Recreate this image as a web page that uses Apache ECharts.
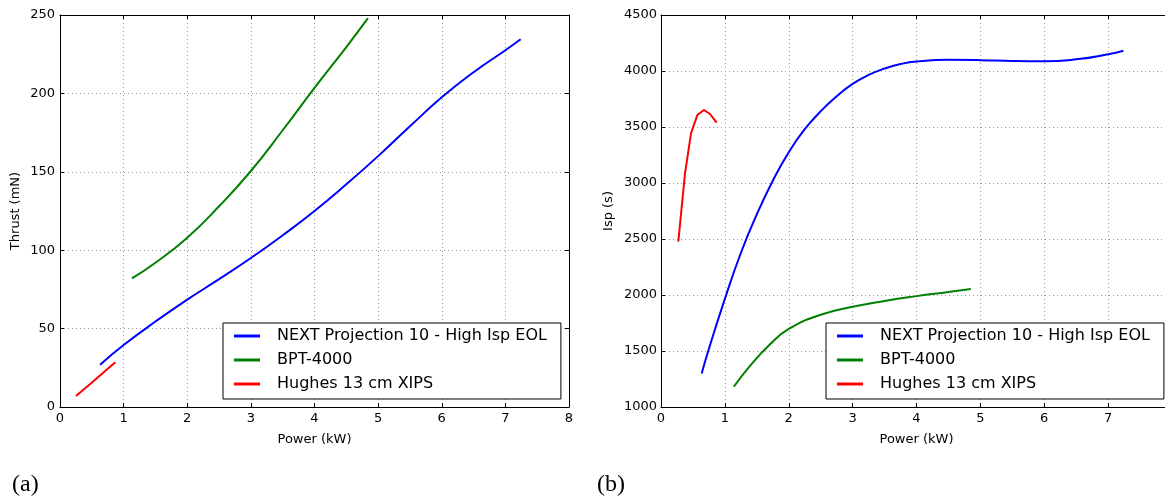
<!DOCTYPE html>
<html>
<head>
<meta charset="utf-8">
<title>Thruster performance vs. power</title>
<script src="https://cdn.jsdelivr.net/npm/echarts@6/dist/echarts.min.js"></script>
<style>
  html, body { margin: 0; padding: 0; background: #fff; }
  #chart { width: 1165px; height: 502px; }
</style>
</head>
<body>
<div id="chart"></div>
<script>
// Series names
const seriesNames = ['NEXT Projection 10 - High Isp EOL', 'BPT-4000', 'Hughes 13 cm XIPS'];
const seriesColors = ['#0000ff', '#008000', '#ff0000'];

// (a) Thrust (mN) vs. power (kW)
const nextThrustPower = [0.63, 1.0, 1.5, 2.0, 2.5, 3.0, 3.5, 4.0, 4.5, 5.0, 5.5, 6.0, 6.5, 7.0, 7.24];
const nextThrust      = [27, 39.5, 54.5, 68.5, 81.5, 95, 109.5, 125, 142, 160, 179, 197.5, 213.5, 227.5, 234.5];
const bptThrustPower  = [1.13, 1.5, 2.0, 2.5, 3.0, 3.5, 4.0, 4.5, 4.84];
const bptThrust       = [82, 92, 108, 128, 150.5, 176.5, 203.5, 229.5, 248];
const xipsThrustPower = [0.25, 0.47, 0.67, 0.87];
const xipsThrust      = [7, 14.5, 21.5, 28.5];

// (b) Isp (s) vs. power (kW)
const nextIspPower = [0.637, 0.75, 1.0, 1.25, 1.5, 1.75, 2.0, 2.25, 2.5, 2.75, 3.0, 3.25, 3.5, 3.75, 4.0, 4.5, 5.0, 5.5, 6.0, 6.5, 7.0, 7.24];
const nextIsp      = [1300, 1520, 1965, 2375, 2720, 3020, 3275, 3480, 3640, 3775, 3885, 3965, 4022, 4062, 4085, 4100, 4097, 4089, 4086, 4104, 4149, 4181];
const bptIspPower  = [1.14, 1.4, 1.7, 2.0, 2.5, 3.0, 3.5, 4.0, 4.5, 4.85];
const bptIsp       = [1181, 1371, 1555, 1697, 1824, 1895, 1947, 1990, 2027, 2054];
const xipsIspPower = [0.271, 0.376, 0.47, 0.569, 0.673, 0.767, 0.871];
const xipsIsp      = [2476, 3086, 3443, 3607, 3652, 3616, 3539];

// Axis ranges and tick steps
const powerTicks  = { min: 0, max: 8, interval: 1 };
const thrustTicks = { min: 0, max: 250, interval: 50 };
const ispTicks    = { min: 1000, max: 4500, interval: 500 };

const zip = (xs, ys) => xs.map((x, i) => [x, ys[i]]);

const tickFont = { fontFamily: 'DejaVu Sans', fontSize: 13, color: '#000', formatter: v => String(v) };
const spine = { show: true, onZero: false, lineStyle: { color: '#000', width: 1 } };
const inTick = { show: true, inside: true, length: 4, lineStyle: { color: '#000' } };
const grid = { show: true, lineStyle: { color: '#9a9a9a', width: 1, type: [1, 3] } };

function mainX(gridIndex) {
  return {
    type: 'value', gridIndex, position: 'bottom', ...powerTicks,
    name: 'Power (kW)', nameLocation: 'middle', nameGap: 26,
    nameTextStyle: { fontFamily: 'DejaVu Sans', fontSize: 13, color: '#000' },
    axisLine: spine, axisTick: inTick,
    axisLabel: { ...tickFont, margin: 5 },
    splitLine: grid
  };
}
function topX(gridIndex) {
  return {
    type: 'value', gridIndex, position: 'top', ...powerTicks,
    axisLine: spine, axisTick: inTick, axisLabel: { show: false }, splitLine: { show: false }
  };
}
function mainY(gridIndex, ticks, name, gap, margin) {
  return {
    type: 'value', gridIndex, position: 'left', ...ticks,
    name, nameLocation: 'middle', nameGap: gap,
    nameTextStyle: { fontFamily: 'DejaVu Sans', fontSize: 13, color: '#000' },
    axisLine: spine, axisTick: inTick,
    axisLabel: { ...tickFont, margin },
    splitLine: grid
  };
}
function rightY(gridIndex, ticks) {
  return {
    type: 'value', gridIndex, position: 'right', ...ticks,
    axisLine: spine, axisTick: inTick, axisLabel: { show: false }, splitLine: { show: false }
  };
}

function line(idx, data, xAxisIndex, yAxisIndex, smooth) {
  return {
    type: 'line', name: seriesNames[idx], data, xAxisIndex, yAxisIndex,
    symbol: 'none', smooth, smoothConstraint: false,
    color: seriesColors[idx],
    lineStyle: { color: seriesColors[idx], width: 2 },
    emphasis: { disabled: true }
  };
}

function legendBox(left) {
  return {
    orient: 'vertical', left, top: 323,
    data: seriesNames,
    icon: 'rect', itemWidth: 26, itemHeight: 3, itemGap: 8,
    padding: [5, 14, 7, 11],
    backgroundColor: '#fff', borderColor: '#000', borderWidth: 1, borderRadius: 0,
    selectedMode: false,
    textStyle: { fontFamily: 'DejaVu Sans', fontSize: 16, color: '#000', lineHeight: 16, padding: [0, 0, 0, 12] }
  };
}

const option = {
  animation: false,
  backgroundColor: '#fff',
  grid: [
    { left: 60, top: 15, width: 509, height: 392, outerBoundsMode: 'none' },
    // panel (b) runs past the right edge of the figure, so its "8" tick and right spine fall outside
    { left: 661, top: 15, width: 511, height: 392, outerBoundsMode: 'none' }
  ],
  xAxis: [mainX(0), topX(0), mainX(1), topX(1)],
  yAxis: [
    mainY(0, thrustTicks, 'Thrust (mN)', 38, 5),
    rightY(0, thrustTicks),
    mainY(1, ispTicks, 'Isp (s)', 46, 4),
    rightY(1, ispTicks)
  ],
  legend: [legendBox(223), legendBox(826)],
  series: [
    line(0, zip(nextThrustPower, nextThrust), 0, 0, 0.5),
    line(1, zip(bptThrustPower, bptThrust), 0, 0, 0.5),
    line(2, zip(xipsThrustPower, xipsThrust), 0, 0, false),
    line(0, zip(nextIspPower, nextIsp), 2, 2, 0.5),
    line(1, zip(bptIspPower, bptIsp), 2, 2, 0.5),
    line(2, zip(xipsIspPower, xipsIsp), 2, 2, false)
  ],
  graphic: [
    { type: 'text', left: 12, top: 473, style: { text: '(a)', fontFamily: 'Liberation Serif', fontSize: 24, fill: '#000' } },
    { type: 'text', left: 597, top: 473, style: { text: '(b)', fontFamily: 'Liberation Serif', fontSize: 24, fill: '#000' } }
  ]
};

const chart = echarts.init(document.getElementById('chart'), null, { renderer: 'canvas' });
chart.setOption(option);
</script>
</body>
</html>
